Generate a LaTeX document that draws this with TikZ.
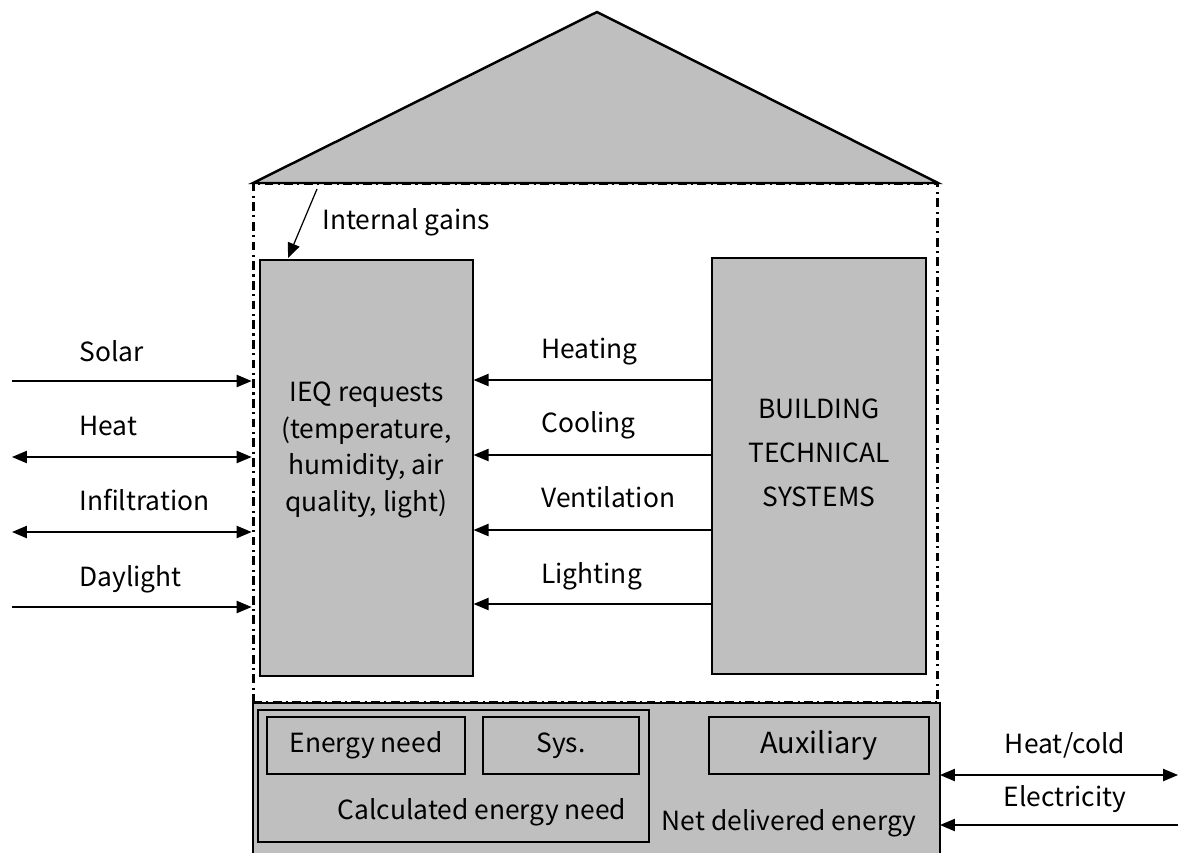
\documentclass[tikz,border=0pt]{standalone}
\usepackage{fontspec}
\setmainfont{Noto Sans CJK KR}
\usetikzlibrary{arrows.meta,positioning}
\definecolor{boxgray}{HTML}{BFBFBF}

\begin{document}
\begin{tikzpicture}[x=0.02cm,y=-0.02cm,>={Triangle[length=8.5pt,width=7pt]},font=\fontsize{15}{21}\selectfont]
\tikzstyle{box}=[draw,fill=boxgray,inner sep=0pt,line width=0.7pt,align=center]
\tikzstyle{flow}=[->,line width=0.7pt]
\tikzstyle{lbl}=[anchor=base west,inner sep=0pt]
\useasboundingbox (0,0) rectangle (1179,853);
\draw[fill=boxgray,line width=1.4pt] (253,183) -- (597,12) -- (938,183) -- cycle;
\node[draw,line width=1.7pt,dash pattern=on 5pt off 2.5pt on 1.2pt off 2.5pt,minimum width=13.7cm,minimum height=10.4cm,inner sep=0pt] (env) at (595.5,443) {};
\draw[fill=boxgray,line width=0.7pt] (253,853) |- (940,703) -- (940,853);
\node[box,minimum width=4.26cm,minimum height=8.32cm] (ieq) at (366.5,468) {};
\node[align=center,inner sep=0pt] (ieqlbl) at (366.5,450) {IEQ requests\\(temperature,\\humidity, air\\quality, light)};
\node[box,minimum width=4.28cm,minimum height=8.32cm] (bts) at (819,466) {};
\node[align=center,inner sep=0pt,font=\fontsize{15}{25}\selectfont] (btslbl) at (819,453) {BUILDING\\TECHNICAL\\SYSTEMS};
\node[box,minimum width=7.82cm,minimum height=2.64cm] (calc) at (453.5,776) {};
\node[box,minimum width=3.96cm,minimum height=1.14cm] (need) at (366,745.5) {Energy need};
\node[box,minimum width=3.12cm,minimum height=1.14cm] (sys) at (561,745.5) {Sys.};
\node[box,minimum width=4.4cm,minimum height=1.14cm,font=\fontsize{16.5}{21}\selectfont] (aux) at (819,745.5) {Auxiliary};
\node[inner sep=0pt] (calclbl) at (482,812) {Calculated energy need};
\node[inner sep=0pt] (netlbl) at (789,823) {Net delivered energy};
\coordinate (gainsfrom) at (317,189);
\coordinate (gainsto) at (288,258);
\draw[flow] (gainsfrom) -- (gainsto);
\node[lbl] (gains) at (322,229) {Internal gains};
\coordinate (solar) at (12,381);
\coordinate (heat) at (12,457);
\coordinate (infil) at (12,532);
\coordinate (day) at (12,607);
\draw[flow] (solar) -- (env.west |- solar);
\draw[flow,<->] (heat) -- (env.west |- heat);
\draw[flow,<->] (infil) -- (env.west |- infil);
\draw[flow] (day) -- (env.west |- day);
\node[lbl] (solarlbl) at (79,361) {Solar};
\node[lbl] (heatlbl) at (79,435) {Heat};
\node[lbl] (infillbl) at (79,510) {Infiltration};
\node[lbl] (daylbl) at (79,586) {Daylight};
\coordinate (hea) at (0,380);
\coordinate (coo) at (0,455);
\coordinate (ven) at (0,530);
\coordinate (lig) at (0,604);
\draw[flow] (bts.west |- hea) -- (ieq.east |- hea);
\draw[flow] (bts.west |- coo) -- (ieq.east |- coo);
\draw[flow] (bts.west |- ven) -- (ieq.east |- ven);
\draw[flow] (bts.west |- lig) -- (ieq.east |- lig);
\node[lbl] (healbl) at (541,358) {Heating};
\node[lbl] (coolbl) at (541,432) {Cooling};
\node[lbl] (venlbl) at (541,507) {Ventilation};
\node[lbl] (liglbl) at (541,583) {Lighting};
\coordinate (hcold) at (1178,775);
\coordinate (elec) at (1178,825);
\draw[flow,<->] (940,775) -- (hcold);
\draw[flow] (elec) -- (940,825);
\node[anchor=base,inner sep=0pt] (hcoldlbl) at (1065,753) {Heat/cold};
\node[anchor=base,inner sep=0pt] (eleclbl) at (1065,806) {Electricity};
\end{tikzpicture}
\end{document}
